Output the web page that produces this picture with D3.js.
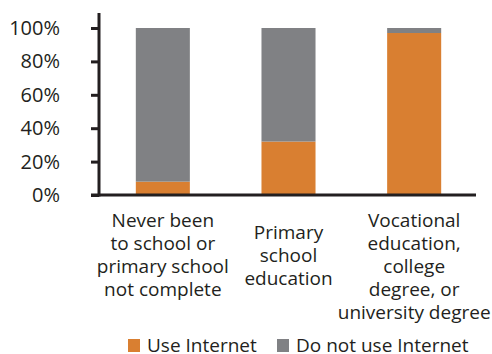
<!DOCTYPE html>
<html>
<head>
<meta charset="utf-8">
<script src="https://d3js.org/d3.v7.min.js"></script>
<style>
body { margin: 0; background: #fff; }
text { font-family: "Open Sans", sans-serif; fill: #231f20; }
</style>
</head>
<body>
<svg width="492" height="354"></svg>
<script>

var categories = [
  ["Never been", "to school or", "primary school", "not complete"],
  ["Primary", "school", "education"],
  ["Vocational", "education,", "college", "degree, or", "university degree"]
];
var useInternet = [8, 32, 97];
var noInternet = [92, 68, 3];
var seriesNames = ["Use Internet", "Do not use Internet"];
var colors = ["#d97f31", "#808184"];
var yTicks = [0, 20, 40, 60, 80, 100];

var svg = d3.select("svg");

var x = d3.scaleBand()
    .domain(d3.range(categories.length))
    .range([100, 477])
    .paddingInner(0.57)
    .paddingOuter(0.285);

var y = d3.scaleLinear()
    .domain([0, 100])
    .range([195, 28]);

var stack = d3.stack().keys([0, 1])
    .value(function(d, k) { return k === 0 ? d.use : d.no; });

var rows = useInternet.map(function(v, i) { return {i: i, use: v, no: noInternet[i]}; });

svg.selectAll("g.layer")
  .data(stack(rows))
  .enter().append("g")
    .attr("class", "layer")
    .attr("fill", function(d, k) { return colors[k]; })
  .selectAll("rect")
  .data(function(d) { return d; })
  .enter().append("rect")
    .attr("x", function(d) { return x(d.data.i); })
    .attr("width", x.bandwidth())
    .attr("y", function(d) { return y(d[1]); })
    .attr("height", function(d) { return y(d[0]) - y(d[1]); });

// y axis
var yAxis = svg.append("g")
    .attr("transform", "translate(99,0)")
    .call(d3.axisLeft(y).tickValues(yTicks).tickSize(8).tickPadding(31)
      .tickFormat(function(d) { return d + "%"; }));
yAxis.select(".domain").remove();
yAxis.selectAll(".tick line").attr("stroke", "#231f20").attr("stroke-width", 3);
yAxis.selectAll(".tick text")
    .style("font-size", "20px")
    .attr("fill", "#231f20");

svg.append("line")
    .attr("x1", 99).attr("x2", 99)
    .attr("y1", 13).attr("y2", 196.5)
    .attr("stroke", "#231f20").attr("stroke-width", 3);

svg.append("line")
    .attr("x1", 91).attr("x2", 476)
    .attr("y1", 195).attr("y2", 195)
    .attr("stroke", "#231f20").attr("stroke-width", 3);

// category labels
var labelTop = [220, 232, 220];
svg.selectAll("text.cat")
  .data(categories)
  .enter().append("text")
    .attr("class", "cat")
    .attr("text-anchor", "middle")
    .style("font-size", "19px")
    .attr("transform", function(d, i) {
      return "translate(" + (x(i) + x.bandwidth() / 2) + "," + labelTop[i] + ")";
    })
  .selectAll("tspan")
  .data(function(d) { return d; })
  .enter().append("tspan")
    .attr("x", 0)
    .attr("y", function(d, j) { return j * 23; })
    .attr("dy", "0.35em")
    .text(function(d) { return d; });

// legend
var legendX = [128, 277];
var legend = svg.selectAll("g.legend")
  .data(seriesNames)
  .enter().append("g")
    .attr("class", "legend")
    .attr("transform", function(d, i) { return "translate(" + legendX[i] + ",339)"; });
legend.append("rect")
    .attr("width", 12).attr("height", 13)
    .attr("fill", function(d, i) { return colors[i]; });
legend.append("text")
    .attr("x", 19).attr("y", 6)
    .attr("dy", "0.35em")
    .style("font-size", "19px")
    .text(function(d) { return d; });

</script>
</body>
</html>
